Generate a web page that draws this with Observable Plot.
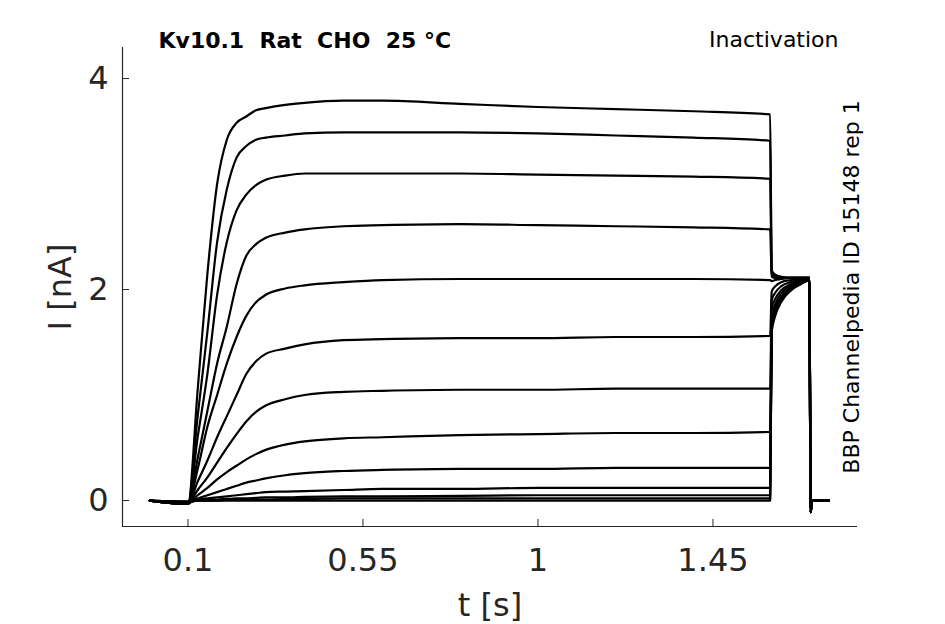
<!DOCTYPE html>
<html>
<head>
<meta charset="utf-8">
<script src="https://cdn.jsdelivr.net/npm/d3@7"></script>
<script src="https://cdn.jsdelivr.net/npm/@observablehq/plot@0.6"></script>
<style>
  body { margin: 0; background: #fff; }
  #chart { width: 945px; height: 624px; }
</style>
</head>
<body>
<div id="chart"></div>
<script>
// ---- data ----
const titleText = "Kv10.1  Rat  CHO  25 °C";
const protocolText = "Inactivation";
const sourceText = "BBP Channelpedia ID 15148 rep 1";
const xLabel = "t [s]";
const yLabel = "I [nA]";
const xTicks = [0.1, 0.55, 1, 1.45];
const yTicks = [0, 2, 4];
const xDomain = [-0.0683, 1.8216];
const yDomain = [-0.246, 4.294];

// sample times (s): step phase, test-pulse tail, return to holding
const stepTimes = [0.002, 0.1, 0.125, 0.15, 0.175, 0.2, 0.225, 0.25, 0.275, 0.3, 0.35, 0.4, 0.5, 0.6, 0.8, 1.0, 1.2, 1.4, 1.597];
const tailTimes = [1.601, 1.61, 1.625, 1.65, 1.675, 1.698];
const offTimes  = [1.701, 1.705, 1.748];
const offCurrent = [-0.11, 0.0, 0.0];

// currents (nA) at the step times, then at the tail times
const trace1  = [0, -0.03, 1.05, 2.15, 3.00, 3.42, 3.58, 3.64, 3.70, 3.72, 3.75, 3.77, 3.79, 3.79, 3.76, 3.73, 3.71, 3.69, 3.66,  2.18, 2.14, 2.12, 2.11, 2.11, 2.11];
const trace2  = [0, -0.03, 0.80, 1.60, 2.45, 2.95, 3.25, 3.36, 3.42, 3.44, 3.46, 3.48, 3.49, 3.49, 3.49, 3.48, 3.46, 3.44, 3.41,  2.16, 2.13, 2.12, 2.11, 2.11, 2.11];
const trace3  = [0, -0.03, 0.60, 1.20, 1.95, 2.45, 2.75, 2.90, 2.99, 3.04, 3.08, 3.10, 3.10, 3.10, 3.10, 3.09, 3.08, 3.07, 3.05,  2.15, 2.12, 2.11, 2.11, 2.11, 2.11];
const trace4  = [0, -0.03, 0.40, 0.85, 1.30, 1.65, 2.05, 2.32, 2.43, 2.49, 2.54, 2.57, 2.60, 2.61, 2.62, 2.61, 2.60, 2.59, 2.57,  2.12, 2.11, 2.11, 2.11, 2.11, 2.11];
const trace5  = [0, -0.03, 0.30, 0.70, 1.00, 1.30, 1.55, 1.75, 1.88, 1.95, 2.01, 2.04, 2.07, 2.09, 2.10, 2.10, 2.10, 2.10, 2.09,  2.08, 2.09, 2.10, 2.11, 2.11, 2.11];
const trace6  = [0, -0.03, 0.18, 0.38, 0.60, 0.80, 1.00, 1.20, 1.32, 1.39, 1.44, 1.48, 1.52, 1.53, 1.54, 1.54, 1.55, 1.55, 1.56,  1.98, 2.03, 2.07, 2.09, 2.10, 2.11];
const trace7  = [0, -0.03, 0.10, 0.22, 0.36, 0.50, 0.63, 0.75, 0.84, 0.90, 0.96, 1.00, 1.03, 1.04, 1.05, 1.05, 1.06, 1.06, 1.06,  1.90, 1.97, 2.03, 2.07, 2.09, 2.10];
const trace8  = [0, -0.03, 0.05, 0.12, 0.20, 0.27, 0.33, 0.39, 0.44, 0.48, 0.53, 0.56, 0.59, 0.60, 0.62, 0.63, 0.64, 0.64, 0.65,  1.82, 1.91, 1.99, 2.05, 2.08, 2.10];
const trace9  = [0, -0.02, 0.02, 0.05, 0.08, 0.11, 0.14, 0.17, 0.19, 0.21, 0.24, 0.26, 0.28, 0.29, 0.30, 0.30, 0.31, 0.31, 0.31,  1.75, 1.86, 1.96, 2.04, 2.07, 2.10];
const trace10 = [0, -0.02, 0.01, 0.02, 0.03, 0.04, 0.05, 0.06, 0.07, 0.08, 0.085, 0.09, 0.10, 0.11, 0.11, 0.12, 0.12, 0.12, 0.12, 1.70, 1.82, 1.93, 2.02, 2.06, 2.10];
const trace11 = [0, -0.01, 0.00, 0.01, 0.01, 0.015, 0.02, 0.02, 0.025, 0.03, 0.03, 0.035, 0.04, 0.04, 0.045, 0.05, 0.05, 0.05, 0.05, 1.66, 1.79, 1.91, 2.01, 2.06, 2.09];
const trace12 = [0, -0.01, 0.00, 0.00, 0.00, 0.005, 0.01, 0.01, 0.01, 0.01, 0.015, 0.015, 0.02, 0.02, 0.02, 0.02, 0.02, 0.02, 0.02, 1.63, 1.77, 1.90, 2.00, 2.05, 2.09];
const trace13 = [0, -0.01, 0.00, 0.00, 0.00, 0.00, 0.00, 0.00, 0.00, 0.00, 0.00, 0.00, 0.00, 0.00, 0.00, 0.00, 0.00, 0.00, 0.00,   1.60, 1.75, 1.88, 1.99, 2.05, 2.09];

const traces = [trace1, trace2, trace3, trace4, trace5, trace6, trace7, trace8, trace9, trace10, trace11, trace12, trace13];
const times = stepTimes.concat(tailTimes, offTimes);

const rows = [];
traces.forEach((tr, k) => {
  const vals = tr.concat(offCurrent);
  times.forEach((t, i) => rows.push({trace: k, t, I: vals[i]}));
});

const axisColor = "#262626";

const plot = Plot.plot({
  width: 945,
  height: 624,
  marginLeft: 122,
  marginRight: 88,
  marginTop: 47,
  marginBottom: 98,
  style: {fontFamily: "DejaVu Sans, sans-serif", background: "#fff", overflow: "visible"},
  x: {domain: xDomain, label: null},
  y: {domain: yDomain, label: null},
  marks: [
    Plot.ruleX([xDomain[0]], {stroke: axisColor, strokeWidth: 1.2}),
    Plot.ruleY([yDomain[0]], {stroke: axisColor, strokeWidth: 1.2}),
    Plot.axisX({ticks: xTicks, tickFormat: d => String(d), tickSize: -7, tickPadding: 29,
                fontSize: 32, color: axisColor, stroke: axisColor, label: null}),
    Plot.axisY({ticks: yTicks, tickFormat: d => String(d), tickSize: -7, tickPadding: 21,
                fontSize: 32, color: axisColor, stroke: axisColor, label: null}),
    Plot.line(rows, {x: "t", y: "I", z: "trace", stroke: "#000", strokeWidth: 2.2, curve: "monotone-x"}),
    Plot.text([titleText], {frameAnchor: "top-left", dx: 36, dy: 0, text: d => d, textAnchor: "start",
               lineAnchor: "bottom", fontSize: 22, fontWeight: "bold", fill: "#000"}),
    Plot.text([protocolText], {frameAnchor: "top-right", dx: -19, dy: -1, text: d => d, textAnchor: "end",
               lineAnchor: "bottom", fontSize: 22, fill: "#000"}),
    Plot.text([sourceText], {frameAnchor: "right", dx: 1, dy: 0, text: d => d, rotate: -90,
               textAnchor: "middle", lineAnchor: "bottom", fontSize: 22, fill: "#000"}),
    Plot.text([yLabel], {frameAnchor: "left", dx: -52, dy: 0, text: d => d, rotate: -90,
               textAnchor: "middle", lineAnchor: "bottom", fontSize: 32, fill: axisColor}),
    Plot.text([xLabel], {frameAnchor: "bottom", dx: 0, dy: 89, text: d => d,
               textAnchor: "middle", lineAnchor: "bottom", fontSize: 32, fill: axisColor})
  ]
});
document.getElementById("chart").appendChild(plot);
</script>
</body>
</html>
